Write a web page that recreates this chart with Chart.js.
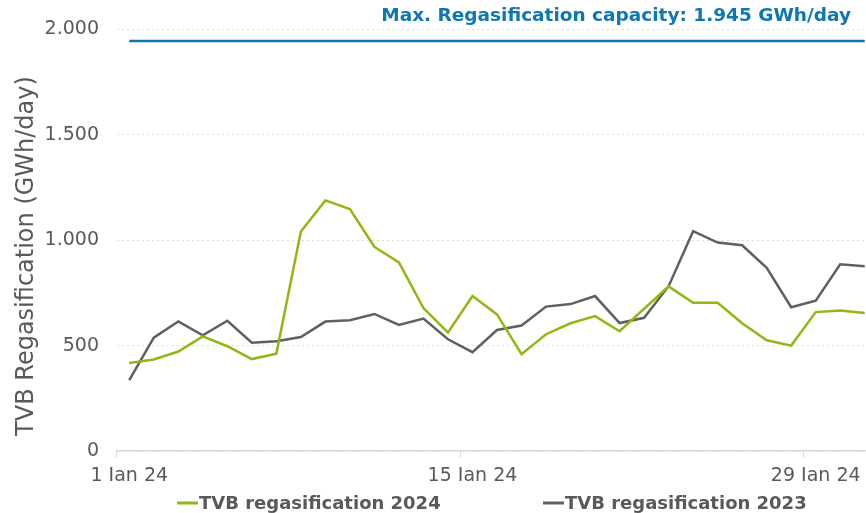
<!DOCTYPE html>
<html>
<head>
<meta charset="utf-8">
<script src="https://cdn.jsdelivr.net/npm/chart.js@4.4.1/dist/chart.umd.min.js"></script>
<style>
    html, body { margin: 0; padding: 0; background: #fff; overflow: hidden; }
    #wrap { position: relative; width: 890px; height: 513px; }
</style>
</head>
<body>
<div id="wrap"><canvas id="regasChart"></canvas></div>
<script>
// Days of January (x categories)
const days = Array.from({ length: 31 }, (_, i) => (i + 1) + ' Jan 24');

// Daily regasification
const regas2024 = [417, 434, 472, 544, 497, 436, 462, 1041, 1189, 1148, 968, 895, 678, 562, 735, 648,
    459, 554, 606, 640, 568, 675, 781, 703, 703, 606, 525, 500, 659, 667, 655];
const regas2023 = [336, 538, 615, 549, 618, 514, 521, 541, 614, 620, 650, 598, 628, 530, 469, 574,
    595, 685, 697, 735, 607, 632, 782, 1043, 989, 976, 869, 682, 713, 886, 876];
const maxCapacity = 1945;

const seriesNames = ['TVB regasification 2024', 'TVB regasification 2023'];
const yTicks = [0, 500, 1000, 1500, 2000];

const FONT = "'DejaVu Sans', Verdana, sans-serif";
const TEXT = '#595959';

// capacity text, y title and legend
const extras = {
    id: 'extras',
    afterDraw(chart) {
        const ctx = chart.ctx;
        ctx.save();
        ctx.font = 'bold 18.5px ' + FONT;
        ctx.fillStyle = '#0e77b3';
        ctx.textAlign = 'right';
        ctx.textBaseline = 'middle';
        ctx.fillText('Max. Regasification capacity: ' + (maxCapacity / 1000).toFixed(3) + ' GWh/day', 851, 16);

        // y title
        ctx.save();
        ctx.translate(27, 256);
        ctx.rotate(-Math.PI / 2);
        ctx.textAlign = 'center';
        ctx.fillStyle = TEXT;
        ctx.font = '24px ' + FONT;
        ctx.fillText('TVB Regasification (GWh/day)', 0, 0);
        ctx.restore();

        // legend
        const items = chart.data.datasets.slice(0, 2);
        const y = 503;
        const starts = [177, 543];
        ctx.textAlign = 'left';
        ctx.font = 'bold 18px ' + FONT;
        items.forEach((ds, i) => {
            const x = starts[i];
            ctx.strokeStyle = ds.borderColor;
            ctx.lineWidth = 3;
            ctx.beginPath();
            ctx.moveTo(x, y);
            ctx.lineTo(x + 21, y);
            ctx.stroke();
            ctx.fillStyle = TEXT;
            ctx.fillText(ds.label, x + 22, y + 1);
        });
        ctx.restore();
    }
};

new Chart(document.getElementById('regasChart'), {
    type: 'line',
    data: {
        labels: days,
        datasets: [
            {
                label: seriesNames[0],
                data: regas2024,
                borderColor: '#8fb812',
                backgroundColor: '#8fb812',
                borderWidth: 2.5,
                pointRadius: 0,
                tension: 0
            },
            {
                label: seriesNames[1],
                data: regas2023,
                borderColor: '#5f6064',
                backgroundColor: '#5f6064',
                borderWidth: 2.5,
                pointRadius: 0,
                tension: 0
            },
            {
                label: 'Max capacity',
                data: days.map(() => maxCapacity),
                borderColor: '#0b76b3',
                borderWidth: 2.5,
                pointRadius: 0
            }
        ]
    },
    options: {
        responsive: true,
        maintainAspectRatio: false,
        animation: false,
        layout: { padding: { top: 27, right: 13, bottom: 32, left: 0 } },
        plugins: {
            legend: { display: false },
            tooltip: { enabled: false }
        },
        scales: {
            x: {
                type: 'category',
                offset: true,
                afterFit: s => { s.height = 30; },
                grid: {
                    offset: true,
                    drawOnChartArea: false,
                    color: c => (c.index % 14 === 0 ? '#d9d9d9' : 'rgba(0,0,0,0)'),
                    tickLength: 7
                },
                border: { color: '#d9d9d9', width: 1.5 },
                ticks: {
                    autoSkip: false,
                    maxRotation: 0,
                    padding: 7,
                    color: TEXT,
                    font: { family: FONT, size: 19 },
                    callback: (v, i) => (i % 14 === 0 ? days[i] : '')
                }
            },
            y: {
                min: yTicks[0],
                max: yTicks[yTicks.length - 1],
                afterFit: s => { s.width = 117; },
                afterBuildTicks: s => { s.ticks = yTicks.map(v => ({ value: v })); },
                grid: {
                    color: '#dedede',
                    drawTicks: false
                },
                border: { display: false, dash: [2, 3] },
                ticks: {
                    padding: 18,
                    color: TEXT,
                    font: { family: FONT, size: 19 },
                    callback: v => v.toLocaleString('de-DE')
                }
            }
        }
    },
    plugins: [extras]
});
</script>
</body>
</html>
